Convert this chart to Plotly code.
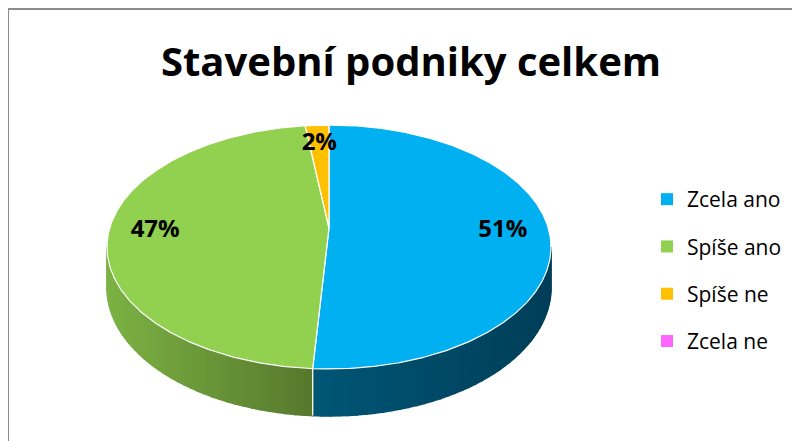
import numpy as np
import plotly.graph_objects as go

# ---- data ----
categories = ["Zcela ano", "Spíše ano", "Spíše ne", "Zcela ne"]
values = [51, 47, 2, 0]
title_text = "Stavební podniky celkem"

# ---- style ----
colors = ["#00B0F0", "#92D050", "#FFC000", "#FF66FF"]
side_left = [(0, 86, 118), (124, 178, 68), (200, 150, 0), (200, 80, 200)]
side_right = [(0, 62, 88), (86, 120, 44), (150, 110, 0), (150, 60, 150)]
FONT = "Open Sans"
OFF = 8  # page body margin

W, H = 800, 441

# ---- 3D pie geometry (perspective projection of a tilted disc) ----
CX, CY = 329.0, 228.0
A, B, P = 219.3, 119.0, 0.1557
DEPTH = 39.7
LABEL_R = 0.79


def proj(theta_deg, r=1.0):
    t = np.radians(theta_deg)
    u = r * np.sin(t)
    v = r * np.cos(t)
    den = 1 + P * v
    return CX + A * u / den, CY - B * v / den, den


def rgb(c):
    return "rgb(%d,%d,%d)" % tuple(int(round(x)) for x in c)


def paper_x(px):
    return (px - OFF) / W


def paper_y(py):
    return 1 - (py - OFF) / H


total = float(sum(values))
bounds = []
start = 0.0
for v in values:
    end = start + v / total * 360.0
    bounds.append((start, end))
    start = end

theta_r = np.degrees(np.arccos(-P))
theta_l = 360.0 - theta_r

fig = go.Figure()

# side walls (front half only), drawn as shaded strips
for i, (a0, a1) in enumerate(bounds):
    lo, hi = max(a0, theta_r), min(a1, theta_l)
    if hi - lo <= 0:
        continue
    xs_span = [proj(lo)[0], proj(hi)[0]]
    xmin, xmax = min(xs_span), max(xs_span)
    n = int(np.ceil((hi - lo) / 2.0))
    edges = np.linspace(lo, hi, n + 1)
    for k in range(n):
        t = np.linspace(edges[k], edges[k + 1], 4)
        xt, yt, den = proj(t)
        yb = yt + DEPTH / den
        px = np.concatenate([xt, xt[::-1], xt[:1]])
        py = np.concatenate([yt, yb[::-1], yt[:1]])
        xc = xt.mean()
        f = 0 if xmax == xmin else (xc - xmin) / (xmax - xmin)
        c = [side_left[i][j] + (side_right[i][j] - side_left[i][j]) * f for j in range(3)]
        fig.add_trace(go.Scatter(x=px, y=py, mode="lines", fill="toself",
                                 fillcolor=rgb(c), line=dict(color=rgb(c), width=1.5),
                                 showlegend=False, hoverinfo="skip"))

# vertical seams between slices on the front side
for i, (a0, a1) in enumerate(bounds):
    if values[i] <= 0:
        continue
    if theta_r < a0 < theta_l:
        xt, yt, den = proj(a0)
        fig.add_trace(go.Scatter(x=[xt, xt], y=[yt, yt + DEPTH / den], mode="lines",
                                 line=dict(color="white", width=1.2),
                                 showlegend=False, hoverinfo="skip"))

# top faces
for i, (a0, a1) in enumerate(bounds):
    if values[i] <= 0:
        continue
    t = np.linspace(a0, a1, max(int((a1 - a0) / 0.5), 2) + 1)
    xt, yt, _ = proj(t)
    px = np.concatenate([[CX], xt, [CX]])
    py = np.concatenate([[CY], yt, [CY]])
    fig.add_trace(go.Scatter(x=px, y=py, mode="lines", fill="toself",
                             fillcolor=colors[i], line=dict(color="white", width=1.2),
                             showlegend=False, hoverinfo="skip"))

# data labels
lx, ly, lt = [], [], []
for i, (a0, a1) in enumerate(bounds):
    if values[i] <= 0:
        continue
    x, y, _ = proj((a0 + a1) / 2.0, LABEL_R)
    lx.append(x)
    ly.append(y)
    lt.append("%d%%" % round(values[i] / total * 100))
fig.add_trace(go.Scatter(x=lx, y=ly, text=lt, mode="text",
                         textfont=dict(family=FONT, size=24, color="black", weight="bold"),
                         showlegend=False, hoverinfo="skip"))

# legend entries
for cat, col in zip(categories, colors):
    fig.add_trace(go.Scatter(x=[None], y=[None], mode="markers", name=cat,
                             legendgroup=cat,
                             marker=dict(symbol="square", size=12, color=col)))

fig.update_layout(
    width=W, height=H,
    margin=dict(l=0, r=0, t=0, b=0),
    paper_bgcolor="white", plot_bgcolor="white",
    xaxis=dict(range=[OFF, W + OFF], visible=False, fixedrange=True),
    yaxis=dict(range=[H + OFF, OFF], visible=False, fixedrange=True),
    title=dict(text=title_text, x=paper_x(411), y=paper_y(62), xanchor="center",
               yanchor="middle", font=dict(family=FONT, size=40, color="black", weight="bold")),
    legend=dict(x=paper_x(647), y=paper_y(179), xanchor="left", yanchor="top",
                font=dict(family=FONT, size=21, color="black"),
                tracegroupgap=17, bgcolor="rgba(0,0,0,0)"),
    shapes=[dict(type="rect", xref="x", yref="y", x0=8, y0=9, x1=W + 20, y1=H + 20,
                 line=dict(color="#8c8c8c", width=2), layer="above")],
    showlegend=True,
)

fig.write_html("out.html")
